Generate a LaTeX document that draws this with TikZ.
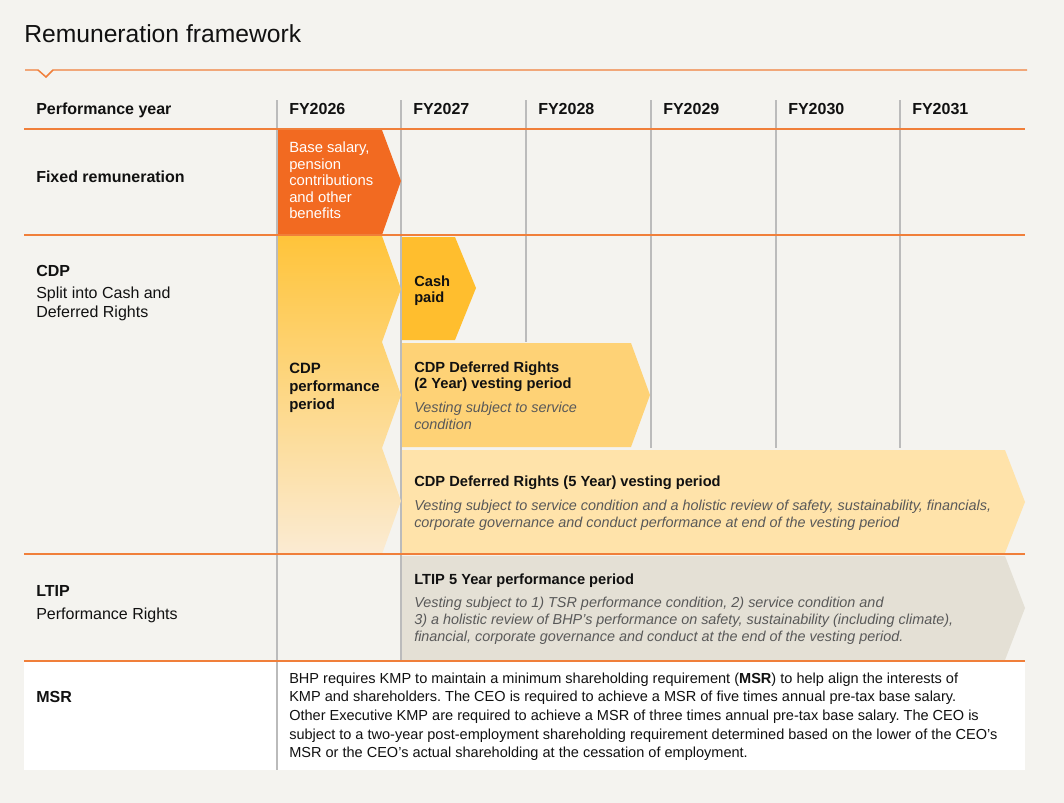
\documentclass[tikz,border=0pt]{standalone}
\usepackage{fontspec}
\setmainfont{Liberation Sans}
\frenchspacing
\definecolor{paper}{HTML}{F4F3EF}
\definecolor{rulecol}{HTML}{F07F3A}
\definecolor{colline}{HTML}{BBBBBB}
\definecolor{fixedorange}{HTML}{F26A21}
\definecolor{cdptop}{HTML}{FFC43A}
\definecolor{cdpbottom}{HTML}{FBEBD3}
\definecolor{cashyellow}{HTML}{FFBE2E}
\definecolor{twoyear}{HTML}{FED276}
\definecolor{fiveyear}{HTML}{FFE3AA}
\definecolor{ltipgrey}{HTML}{E4E0D5}
\definecolor{notegrey}{HTML}{595959}
\definecolor{inkblack}{HTML}{111111}

\begin{document}
\begin{tikzpicture}[x=0.75pt,y=-0.75pt,
    every node/.style={inner sep=0pt,anchor=north west,align=left,text=inkblack,
      font=\fontsize{11}{12.7}\selectfont},
    hdr/.style={font=\fontsize{12}{14.2}\selectfont\bfseries},
    lbl/.style={font=\fontsize{12}{14.2}\selectfont},
    ttl/.style={font=\fontsize{11}{12.2}\selectfont\bfseries},
    note/.style={font=\fontsize{10.8}{12.8}\selectfont\itshape,text=notegrey},
    yearline/.style={draw=colline,line width=1.1pt},
    rowline/.style={draw=rulecol,line width=1.1pt}]
  \useasboundingbox (0,0) rectangle (1064,803);
  \fill[paper] (0,0) rectangle (1064,803);

  \node[font=\fontsize{18.5}{22}\selectfont] (title) at (24,24) {Remuneration framework};
  \draw[rowline] (25,70) -- (38,70) -- (46,77) -- (53,70) -- (1027,70);

  % year columns
  \draw[yearline] (277,100) -- (277,770);
  \draw[yearline] (401,100) -- (401,660);
  \draw[yearline] (526,100) -- (526,342);
  \foreach \x in {651,776,900}
    \draw[yearline] (\x,100) -- (\x,448);

  \node[hdr] (hdryear) at (36,103) {Performance year};
  \foreach \x/\yr in {289/2026,413/2027,538/2028,663/2029,788/2030,912/2031}
    \node[hdr] (fy\yr) at (\x,103) {FY\yr};

  % bars
  \fill[fixedorange] (278,130) -- (382,130) -- (401,181) -- (382,235) -- (278,235) -- cycle;
  \shade[top color=cdptop,bottom color=cdpbottom] (278,236) -- (382,236) -- (401,289)
    -- (382,342) -- (401,395) -- (382,448) -- (401,501) -- (382,554) -- (278,554) -- cycle;
  \fill[cashyellow] (402,237) -- (455,237) -- (476,288) -- (455,340) -- (402,340) -- cycle;
  \fill[twoyear] (402,343) -- (631,343) -- (650,395) -- (631,447) -- (402,447) -- cycle;
  \fill[fiveyear] (402,450) -- (1005,450) -- (1025,502) -- (1005,553) -- (402,553) -- cycle;
  \fill[ltipgrey] (402,556) -- (1005,556) -- (1025,608) -- (1005,660) -- (402,660) -- cycle;
  \fill[white] (24,661) rectangle (1025,770);
  \draw[yearline] (277,661) -- (277,770);

  \foreach \y in {129,235,554,661}
    \draw[rowline] (24,\y) -- (1025,\y);

  % row labels
  \node[hdr] (fixedlbl) at (36,171) {Fixed remuneration};
  \node[hdr] (cdplbl) at (36,265) {CDP};
  \node[lbl] (cdpsub) at (36,287) {Split into Cash and\\Deferred Rights};
  \node[hdr] (ltiplbl) at (36,585) {LTIP};
  \node[lbl] (ltipsub) at (36,608) {Performance Rights};
  \node[hdr] (msrlbl) at (36,691) {MSR};

  % bar texts
  \node[text=white,font=\fontsize{11.1}{12.45}\selectfont] (fixedtext) at (289,141.5)
    {Base salary,\\pension\\contributions\\and other\\benefits};
  \node[ttl,font=\fontsize{11.2}{13.5}\selectfont\bfseries] (cdpperiod) at (289,362.5)
    {CDP\\performance\\period};
  \node[ttl] (cash) at (414,275.5) {Cash\\paid};
  \node[ttl] (twotitle) at (414,361.5) {CDP Deferred Rights\\(2 Year) vesting period};
  \node[note] (twonote) at (414,401.5) {Vesting subject to service\\condition};
  \node[ttl] (fivetitle) at (414,475.5) {CDP Deferred Rights (5 Year) vesting period};
  \node[note] (fivenote) at (414,499.5)
    {Vesting subject to service condition and a holistic review of safety, sustainability, financials,\\
     corporate governance and conduct performance at end of the vesting period};
  \node[ttl] (ltiptitle) at (414,573.5) {LTIP 5 Year performance period};
  \node[note] (ltipnote) at (414,596.5)
    {Vesting subject to 1) TSR performance condition, 2) service condition and\\
     3) a holistic review of BHP’s performance on safety, sustainability (including climate),\\
     financial, corporate governance and conduct at the end of the vesting period.};
  \node[lbl,font=\fontsize{10.9}{14}\selectfont] (msrtext) at (289,672.5)
    {BHP requires KMP to maintain a minimum shareholding requirement (\textbf{MSR}) to help align the interests of\\
     KMP and shareholders. The CEO is required to achieve a MSR of five times annual pre-tax base salary.\\
     Other Executive KMP are required to achieve a MSR of three times annual pre-tax base salary. The CEO is\\
     subject to a two-year post-employment shareholding requirement determined based on the lower of the CEO’s\\
     MSR or the CEO’s actual shareholding at the cessation of employment.};
\end{tikzpicture}
\end{document}
